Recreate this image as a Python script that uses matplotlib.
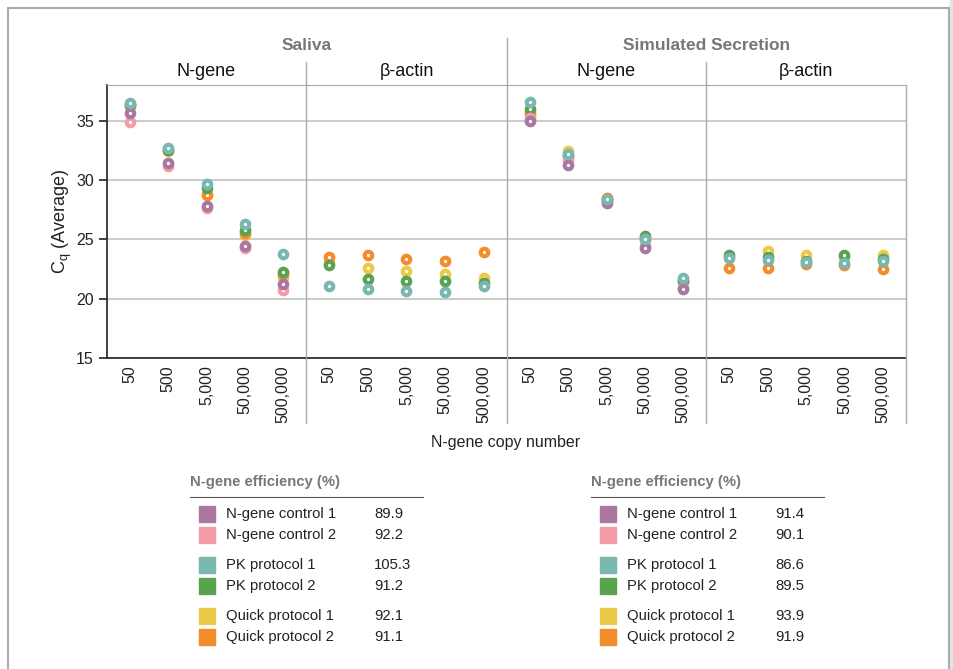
import matplotlib.pyplot as plt
from matplotlib.lines import Line2D
from matplotlib.patches import Rectangle

plt.rcParams['font.family'] = ['Liberation Sans', 'DejaVu Sans']

W, H = 954, 669

copies = ['50', '500', '5,000', '50,000', '500,000']
series = ['N-gene control 1', 'N-gene control 2', 'PK protocol 1',
          'PK protocol 2', 'Quick protocol 1', 'Quick protocol 2']
colors = ['#a9779f', '#f59ba7', '#78b8b1', '#5aa150', '#ecc946', '#f28c2c']
# order the rings are stacked in (last on top)
draw_order = ['Quick protocol 1', 'Quick protocol 2', 'PK protocol 2',
              'N-gene control 2', 'N-gene control 1', 'PK protocol 1']

saliva_ngene = {
    'N-gene control 1': [35.65, 31.4, 27.8, 24.4, 21.2],
    'N-gene control 2': [34.85, 31.15, 27.6, 24.25, 20.7],
    'PK protocol 1': [36.45, 32.7, 29.7, 26.25, 23.75],
    'PK protocol 2': [36.3, 32.55, 29.3, 25.8, 22.25],
    'Quick protocol 1': [36.2, 32.45, 28.85, 25.35, 21.85],
    'Quick protocol 2': [36.3, 32.55, 28.7, 25.55, 22.1],
}
saliva_actin = {
    'PK protocol 1': [21.1, 20.8, 20.65, 20.55, 21.1],
    'PK protocol 2': [22.8, 21.65, 21.5, 21.45, 21.3],
    'Quick protocol 1': [23.05, 22.55, 22.3, 22.05, 21.7],
    'Quick protocol 2': [23.5, 23.65, 23.35, 23.15, 23.9],
}
sim_ngene = {
    'N-gene control 1': [35.0, 31.25, 28.05, 24.3, 20.8],
    'N-gene control 2': [35.2, 31.7, 28.2, 24.45, 20.9],
    'PK protocol 1': [36.6, 32.2, 28.4, 25.0, 21.75],
    'PK protocol 2': [35.95, 32.0, 28.35, 25.25, 21.45],
    'Quick protocol 1': [35.75, 32.4, 28.5, 24.9, 21.5],
    'Quick protocol 2': [35.55, 32.1, 28.5, 25.1, 21.5],
}
sim_actin = {
    'PK protocol 1': [23.4, 23.25, 23.05, 23.0, 23.2],
    'PK protocol 2': [23.65, 23.5, 23.2, 23.65, 23.35],
    'Quick protocol 1': [23.5, 24.0, 23.7, 23.5, 23.7],
    'Quick protocol 2': [22.6, 22.6, 22.95, 22.8, 22.5],
}

eff_saliva = ['89.9', '92.2', '105.3', '91.2', '92.1', '91.1']
eff_sim = ['91.4', '90.1', '86.6', '89.5', '93.9', '91.9']

panel_titles = ['N-gene', 'β-actin', 'N-gene', 'β-actin']
panel_data = [saliva_ngene, saliva_actin, sim_ngene, sim_actin]
group_titles = ['Saliva', 'Simulated Secretion']


def fx(px):
    return px / W


def fy(py):
    return 1 - py / H


fig = plt.figure(figsize=(W / 100, H / 100), dpi=100)

edges = [107, 306, 507, 706, 906]
top, bottom = 85, 358
color_of = dict(zip(series, colors))

for p in range(4):
    ax = fig.add_axes([fx(edges[p]), fy(bottom), fx(edges[p + 1] - edges[p]),
                       fy(top) - fy(bottom)])
    data = panel_data[p]
    for name in draw_order:
        if name in data:
            ax.plot(range(5), data[name], 'o', ls='none', ms=5.4, mew=3.0,
                    mec=color_of[name], mfc='white', zorder=3, clip_on=False)
    ax.set_xlim(-0.6, 4.6)
    ax.set_ylim(15, 38)
    ax.set_yticks([15, 20, 25, 30, 35])
    ax.yaxis.grid(True, color='#cccccc', lw=1.5)
    ax.set_axisbelow(True)
    ax.set_xticks(range(5))
    ax.set_xticklabels(copies, rotation=90, fontsize=11.5, color='#222222')
    ax.tick_params(axis='x', length=0, pad=5)
    ax.spines['right'].set_visible(False)
    ax.spines['top'].set_color('#aaaaaa')
    ax.spines['bottom'].set_color('#222222')
    ax.spines['bottom'].set_linewidth(1.2)
    if p == 0:
        ax.spines['left'].set_color('#222222')
        ax.spines['left'].set_linewidth(1.2)
        ax.tick_params(axis='y', length=6, width=1.2, labelsize=11.5,
                       labelcolor='#222222', color='#222222')
    else:
        ax.spines['left'].set_visible(False)
        ax.tick_params(axis='y', left=False, labelleft=False)
    fig.text(fx((edges[p] + edges[p + 1]) / 2), fy(72), panel_titles[p],
             ha='center', va='center', fontsize=13, color='#111111')

for g in range(2):
    fig.text(fx((edges[2 * g] + edges[2 * g + 2]) / 2), fy(46), group_titles[g],
             ha='center', va='center', fontsize=12.5, fontweight='bold',
             color='#777777')

# divider lines between panels, running into the header and tick label area
for x, y0 in [(306, 62), (507, 38), (706, 62), (906, 85)]:
    fig.add_artist(Line2D([fx(x), fx(x)], [fy(y0), fy(423)], color='#aaaaaa',
                          lw=1.0, transform=fig.transFigure))

fig.text(fx(62), fy((top + bottom) / 2), 'C$_\\mathregular{q}$ (Average)',
         rotation=90, ha='center', va='center', fontsize=13, color='#222222')
fig.text(fx(506), fy(443), 'N-gene copy number', ha='center', va='center',
         fontsize=11.5, color='#222222')

rows_y = [514, 535, 565, 586, 616, 637]


def draw_table(x0, values):
    fig.text(fx(x0), fy(482), 'N-gene efficiency (%)', ha='left', va='center',
             fontsize=10.7, fontweight='bold', color='#777777')
    fig.add_artist(Line2D([fx(x0), fx(x0 + 233)], [fy(497), fy(497)],
                          color='#555555', lw=0.8, transform=fig.transFigure))
    for i in range(6):
        y = rows_y[i]
        fig.add_artist(Rectangle((fx(x0 + 9), fy(y + 8)), fx(16), fy(y - 8) - fy(y + 8),
                                 color=colors[i], transform=fig.transFigure))
        fig.text(fx(x0 + 36), fy(y), series[i], ha='left', va='center',
                 fontsize=10.7, color='#222222')
        fig.text(fx(x0 + 184), fy(y), values[i], ha='left', va='center',
                 fontsize=10.7, color='#222222')


draw_table(190, eff_saliva)
draw_table(591, eff_sim)

# page frame
fig.add_artist(Rectangle((fx(950), 0), fx(4), 1, color='#e4e4e4',
                         transform=fig.transFigure))
fig.add_artist(Rectangle((fx(8), -0.05), fx(941), fy(8) + 0.05, fill=False,
                         ec='#aaaaaa', lw=1.5, transform=fig.transFigure))

fig.savefig('out.png', dpi=100)
